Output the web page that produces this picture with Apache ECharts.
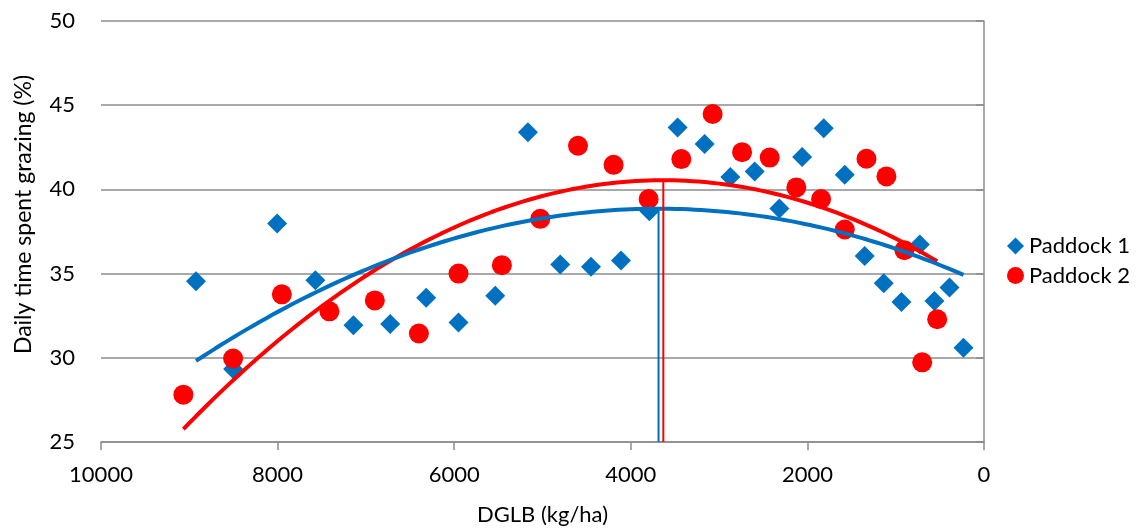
<!DOCTYPE html>
<html><head><meta charset="utf-8">
<script src="https://cdn.jsdelivr.net/npm/echarts@6/dist/echarts.min.js"></script>
<style>html,body{margin:0;padding:0;background:#fff}#c{width:1141px;height:531px}</style>
</head><body><div id="c"></div>
<script>
// Paddock 1 (blue diamonds)
const p1X = [8924,8504,8005,7572,7141,6725,6317,5951,5535,5165,4799,4451,4111,3790,3470,3164,2873,2597,2317,2060,1815,1577,1351,1135,935,727,561,391,232];
const p1Y = [34.54,29.33,37.97,34.6,31.93,32.0,33.57,32.09,33.69,43.40,35.54,35.41,35.78,38.70,43.67,42.70,40.73,41.07,38.86,41.92,43.63,40.87,36.04,34.42,33.31,36.73,33.37,34.17,30.59];
// Paddock 2 (red circles)
const p2X = [9067,8504,7952,7413,6899,6400,5951,5460,5025,4598,4195,3798,3428,3073,2740,2427,2125,1845,1577,1331,1105,901,700,530];
const p2Y = [27.81,29.96,33.77,32.76,33.41,31.44,35.0,35.5,38.25,42.59,41.46,39.43,41.8,44.48,42.21,41.89,40.12,39.43,37.62,41.82,40.77,36.39,29.73,32.29];
const seriesNames = ['Paddock 1','Paddock 2'];
const xTicks = [0,2000,4000,6000,8000,10000];
const yTicks = [25,30,35,40,45,50];
const xTitle = 'DGLB (kg/ha)';
const yTitle = 'Daily time spent grazing (%)';

const BLUE = '#0070C0', RED = '#FF0000', GRID = '#8c8c8c';
const FONT = 'Lato';

// 2nd-order polynomial least-squares trendline (as in the original spreadsheet chart)
function polyFit(xs, ys){
  const s = 1000; let S=[0,0,0,0,0], T=[0,0,0];
  xs.forEach((x,i)=>{ const u=x/s; let p=1; for(let k=0;k<5;k++){S[k]+=p; if(k<3) T[k]+=p*ys[i]; p*=u;} });
  const A=[[S[0],S[1],S[2],T[0]],[S[1],S[2],S[3],T[1]],[S[2],S[3],S[4],T[2]]];
  for(let i=0;i<3;i++){ for(let j=i+1;j<3;j++){ const f=A[j][i]/A[i][i]; for(let k=i;k<4;k++) A[j][k]-=f*A[i][k]; } }
  const c=[0,0,0];
  for(let i=2;i>=0;i--){ let v=A[i][3]; for(let k=i+1;k<3;k++) v-=A[i][k]*c[k]; c[i]=v/A[i][i]; }
  const f = x => { const u=x/s; return c[0]+c[1]*u+c[2]*u*u; };
  const vx = -c[1]/(2*c[2])*s;
  return {f, vx, vy: f(vx)};
}
function curve(fit, xs){
  const lo=Math.min(...xs), hi=Math.max(...xs), out=[];
  for(let i=0;i<=120;i++){ const x=lo+(hi-lo)*i/120; out.push([x, fit.f(x)]); }
  return out;
}
const fit1 = polyFit(p1X,p1Y), fit2 = polyFit(p2X,p2Y);

const chart = echarts.init(document.getElementById('c'), null, {renderer:'canvas'});
chart.setOption({
  animation:false,
  textStyle:{fontFamily:FONT},
  grid:{left:101, right:157, top:21, bottom:88},
  legend:{
    data:seriesNames, orient:'vertical', left:1002, top:230, itemGap:7.5,
    itemWidth:17, itemHeight:17, textStyle:{fontSize:22, color:'#000', fontFamily:FONT}
  },
  xAxis:{
    type:'value', inverse:true, min:xTicks[0], max:xTicks[xTicks.length-1], interval:2000,
    name:xTitle, nameLocation:'middle', nameGap:62,
    nameTextStyle:{fontSize:22, color:'#000', fontFamily:FONT},
    axisLine:{show:true, lineStyle:{color:GRID, width:1.5}},
    axisTick:{show:true, length:8, lineStyle:{color:GRID, width:1.5}},
    axisLabel:{fontSize:22, color:'#000', margin:22, fontFamily:FONT, formatter:v=>String(v)},
    splitLine:{show:false}
  },
  yAxis:{
    type:'value', min:yTicks[0], max:yTicks[yTicks.length-1], interval:5,
    name:yTitle, nameLocation:'middle', nameGap:66,
    nameTextStyle:{fontSize:23, color:'#000', fontFamily:FONT, padding:[0,0,0,34]},
    axisLine:{show:true, lineStyle:{color:GRID, width:1.5}},
    axisTick:{show:true, length:8, lineStyle:{color:GRID, width:1.5}},
    axisLabel:{fontSize:22, color:'#000', margin:26, fontFamily:FONT, formatter:v=>String(v)},
    splitLine:{show:true, lineStyle:{color:GRID, width:1.5}}
  },
  series:[
    {name:seriesNames[0], type:'scatter', symbol:'diamond', symbolSize:20, z:2,
     itemStyle:{color:BLUE, opacity:1}, data:p1X.map((x,i)=>[x,p1Y[i]])},
    {name:seriesNames[1], type:'scatter', symbol:'circle', symbolSize:20, z:2,
     itemStyle:{color:RED, opacity:1}, data:p2X.map((x,i)=>[x,p2Y[i]])},
    {name:'Trend 2', type:'line', showSymbol:false, z:3, lineStyle:{color:RED, width:4}, itemStyle:{color:RED},
     data:curve(fit2,p2X)},
    {name:'Trend 1', type:'line', showSymbol:false, z:4, lineStyle:{color:BLUE, width:4}, itemStyle:{color:BLUE},
     data:curve(fit1,p1X)},
    {name:'Peak 1', type:'line', showSymbol:false, z:4, lineStyle:{color:BLUE, width:2}, itemStyle:{color:BLUE},
     data:[[fit1.vx, yTicks[0]],[fit1.vx, fit1.vy]]},
    {name:'Peak 2', type:'line', showSymbol:false, z:4, lineStyle:{color:RED, width:2}, itemStyle:{color:RED},
     data:[[fit2.vx, yTicks[0]],[fit2.vx, fit2.vy]]}
  ]
});
</script></body></html>
